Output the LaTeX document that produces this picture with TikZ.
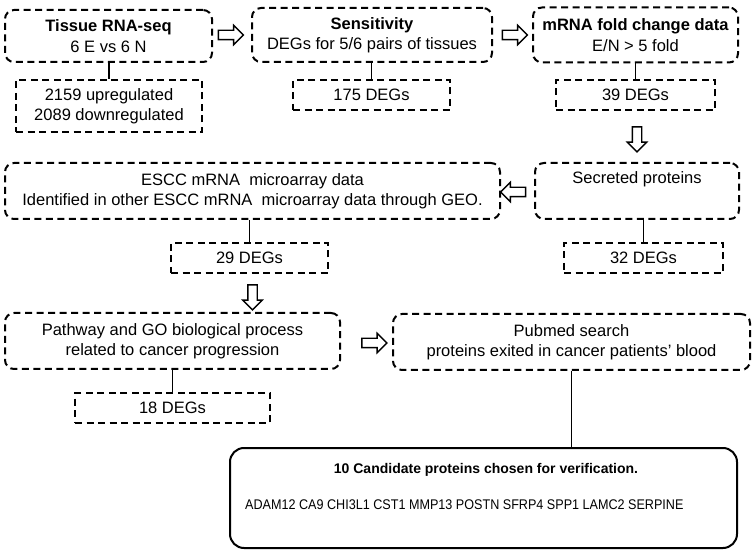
\documentclass[tikz,border=0pt]{standalone}
\usepackage{fontspec}
\setmainfont{Liberation Sans}
\newfontfamily\genefont[FakeStretch=0.9]{Liberation Sans}
\usetikzlibrary{shapes.arrows,positioning}

\begin{document}
\begin{tikzpicture}[x=1pt,y=-1pt,
    stage/.style={draw,line width=2pt,dash pattern=on 7pt off 4.5pt,rounded corners=9pt,
      align=center,inner sep=0pt,font=\fontsize{16.5}{20.5}\selectfont},
    tally/.style={draw,line width=2pt,dash pattern=on 7pt off 4.5pt,
      align=center,inner sep=0pt,font=\fontsize{16.5}{20.5}\selectfont},
    link/.style={line width=1.6pt},
    fat/.style={single arrow,draw,fill=white,line width=1.4pt,minimum height=25pt,
      inner sep=4pt,single arrow head extend=5pt}]
  \useasboundingbox (0,0) rectangle (756,556);

  % first row
  \node[stage,minimum width=207pt,minimum height=52pt] (tissue) at (108.5,36)
    {\textbf{Tissue RNA-seq}\\6 E vs 6 N};
  \node[tally,minimum width=186pt,minimum height=52pt] (tissuedeg) at (109,106)
    {2159 upregulated\\2089 downregulated};
  \node[stage,minimum width=240pt,minimum height=54pt] (sens) at (372,35)
    {\textbf{Sensitivity}\\DEGs for 5/6 pairs of tissues};
  \node[tally,minimum width=157pt,minimum height=30pt] (sensdeg) at (371.5,95) {175 DEGs};
  \node[stage,minimum width=205pt,minimum height=55pt] (fold) at (635.5,35)
    {\textbf{mRNA fold change data}\\E/N > 5 fold};
  \node[tally,minimum width=159pt,minimum height=30pt] (folddeg) at (635.5,95) {39 DEGs};

  % second row
  \node[stage,minimum width=204pt,minimum height=56pt] (secr) at (637,191)
    {Secreted proteins\\ \strut};
  \node[tally,minimum width=159pt,minimum height=30pt] (secrdeg) at (643.5,258) {32 DEGs};
  \node[stage,minimum width=495pt,minimum height=56pt] (escc) at (252.5,191)
    {ESCC mRNA \ microarray data\\Identified in other ESCC mRNA \ microarray data through GEO.};
  \node[tally,minimum width=157pt,minimum height=30pt] (esccdeg) at (249.5,258) {29 DEGs};

  % third row
  \node[stage,minimum width=335pt,minimum height=56pt] (path) at (172.5,341)
    {Pathway and GO biological process\\related to cancer progression};
  \node[tally,minimum width=195pt,minimum height=30pt] (pathdeg) at (172.5,408) {18 DEGs};
  \node[stage,minimum width=357pt,minimum height=56pt] (pub) at (571.5,342)
    {Pubmed search\\proteins exited in cancer patients' blood};

  % result
  \node[draw,line width=2pt,rounded corners=14pt,minimum width=507pt,minimum height=100pt] (final) at (483.5,498) {};
  \node[font=\bfseries\fontsize{14}{17}\selectfont] (finaltitle) at (486,470)
    {10 Candidate proteins chosen for verification.};
  \node[anchor=west,inner sep=0pt,font=\genefont\fontsize{14}{17}\selectfont] (genes) at (245,505)
    {ADAM12 CA9 CHI3L1 CST1 MMP13 POSTN SFRP4 SPP1 LAMC2 SERPINE};

  % connectors
  \draw[link] (tissuedeg.north) -- (tissuedeg.north |- tissue.south);
  \draw[link] (sensdeg.north) -- (sensdeg.north |- sens.south);
  \draw[link] (folddeg.north) -- (folddeg.north |- fold.south);
  \draw[link] (secrdeg.north) -- (secrdeg.north |- secr.south);
  \draw[link] (esccdeg.north) -- (esccdeg.north |- escc.south);
  \draw[link] (pathdeg.north) -- (pathdeg.north |- path.south);
  \draw[link] (pub.south) -- (pub.south |- final.north);

  % block arrows
  \node[fat] (step1) at (228.5,35) {};
  \node[fat] (step2) at (512.5,35) {};
  \node[fat,shape border rotate=270] (step3) at (637,137) {};
  \node[fat,shape border rotate=180] (step4) at (515.5,192) {};
  \node[fat,shape border rotate=270] (step5) at (252.5,295) {};
  \node[fat] (step6) at (372,343) {};
\end{tikzpicture}
\end{document}
